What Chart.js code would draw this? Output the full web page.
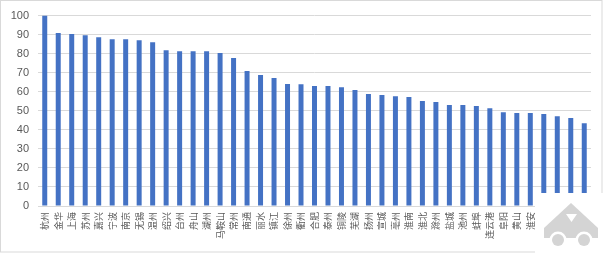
<!DOCTYPE html>
<html>
<head>
<meta charset="utf-8">
<script src="https://cdn.jsdelivr.net/npm/chart.js@4/dist/chart.umd.min.js"></script>
<style>
  body { margin: 0; background: #fff; }
</style>
</head>
<body>
<canvas id="chartCanvas" width="606" height="254"></canvas>
<script>
// --- Dados ---
const cidades = [
  "杭州", "金华", "上海", "苏州", "嘉兴", "宁波", "南京", "无锡", "温州", "绍兴",
  "台州", "舟山", "湖州", "马鞍山", "常州", "南通", "丽水", "镇江", "徐州", "衢州",
  "合肥", "泰州", "铜陵", "芜湖", "扬州", "宣城", "亳州", "淮南", "淮北", "滁州",
  "盐城", "池州", "蚌埠", "连云港", "阜阳", "黄山", "淮安", "宿迁", "安庆", "六安", "宿州"
];
const valores = [
  100, 90.8, 90.3, 89.7, 88.6, 87.6, 87.6, 87.0, 86.0, 81.8,
  81.3, 81.3, 81.3, 80.3, 77.7, 70.9, 68.8, 67.2, 64.1, 64.0,
  63.0, 63.0, 62.4, 60.9, 58.8, 58.3, 57.7, 57.2, 55.1, 54.6,
  53.0, 53.0, 52.5, 51.4, 49.3, 48.8, 48.8, 48.3, 47.2, 46.2, 43.5
];
const yTicks = [0, 10, 20, 30, 40, 50, 60, 70, 80, 90, 100];

// moldura + marca d'agua no canto
const molduraPlugin = {
  id: "moldura",
  afterDraw(chart) {
    const ctx = chart.ctx;
    ctx.save();
    ctx.strokeStyle = "#d9d9d9";
    ctx.lineWidth = 1;
    ctx.strokeRect(0.5, 0.5, 601.5, 251.5);

    ctx.fillStyle = "#ffffff";
    ctx.fillRect(535, 193, 71, 61);

    ctx.fillStyle = "#d4d4d4";
    ctx.beginPath();
    ctx.moveTo(571, 203);
    ctx.lineTo(598, 228);
    ctx.lineTo(598, 238);
    ctx.lineTo(544, 238);
    ctx.lineTo(544, 228);
    ctx.closePath();
    ctx.fill();

    ctx.fillStyle = "#ffffff";
    [558, 584].forEach(cx => {
      ctx.beginPath();
      ctx.arc(cx, 240, 8.5, 0, Math.PI * 2);
      ctx.fill();
    });
    ctx.beginPath();
    ctx.moveTo(566, 214);
    ctx.lineTo(577, 214);
    ctx.lineTo(571.5, 222);
    ctx.closePath();
    ctx.fill();

    ctx.fillStyle = "#d4d4d4";
    [558, 584].forEach(cx => {
      ctx.beginPath();
      ctx.arc(cx, 240, 6, 0, Math.PI * 2);
      ctx.fill();
    });
    ctx.restore();
  }
};

const canvas = document.getElementById("chartCanvas");
new Chart(canvas, {
  type: "bar",
  data: {
    labels: cidades,
    datasets: [{
      data: valores,
      backgroundColor: "#4472c4",
      barPercentage: 0.37,
      categoryPercentage: 1
    }]
  },
  options: {
    responsive: false,
    animation: false,
    layout: { padding: { left: 0, right: 15, top: 15, bottom: 0 } },
    plugins: {
      legend: { display: false },
      tooltip: { enabled: false }
    },
    scales: {
      x: {
        grid: { display: false, drawTicks: false },
        border: { color: "#d9d9d9" },
        ticks: {
          autoSkip: false,
          minRotation: 90,
          maxRotation: 90,
          padding: 6,
          color: "#595959",
          font: { family: "'Noto Sans CJK SC'", size: 9 }
        },
        afterFit(scale) { scale.height = 48; }
      },
      y: {
        min: 0,
        max: 100,
        afterBuildTicks(scale) { scale.ticks = yTicks.map(v => ({ value: v })); },
        grid: { color: "#d9d9d9", drawTicks: false },
        border: { display: false },
        ticks: {
          padding: 9,
          color: "#595959",
          font: { family: "'Liberation Sans'", size: 11 }
        },
        afterFit(scale) { scale.width = 38; }
      }
    }
  },
  plugins: [molduraPlugin]
});
</script>
</body>
</html>
